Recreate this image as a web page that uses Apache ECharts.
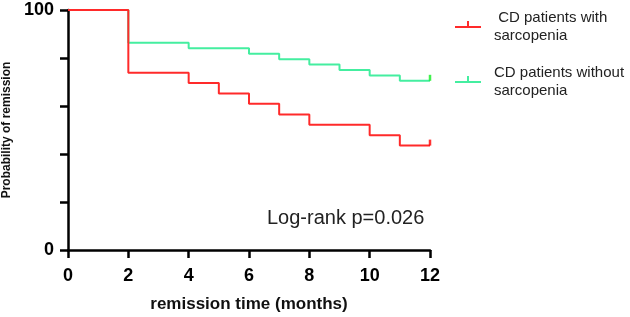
<!DOCTYPE html>
<html>
<head>
<meta charset="utf-8">
<script src="https://cdn.jsdelivr.net/npm/echarts@6/dist/echarts.min.js"></script>
<style>html,body{margin:0;padding:0;background:#fff}#c{width:630px;height:317px}</style>
</head>
<body>
<div id="c"></div>
<script>
// remission time (months) and probability (%) for each step
const redTimes = [0, 2, 4, 5, 6, 7, 8, 10, 11, 12];
const redProb = [100, 73.9, 69.6, 65.2, 60.9, 56.5, 52.2, 47.8, 43.5, 43.5];
const greenTimes = [0, 2, 4, 6, 7, 8, 9, 10, 11, 12];
const greenProb = [100, 86.4, 84.1, 81.8, 79.5, 77.3, 75.0, 72.7, 70.5, 70.5];
const seriesNames = [' CD patients with\nsarcopenia', 'CD patients without\nsarcopenia'];
const yLabels = [0, 100];

const font = 'Liberation Sans, Arial, sans-serif';
// line in the middle, censor tick going up (empty sub-path keeps it centred)
const legendIcon = 'path://M0,9 L26,9 L26,11 L0,11 Z M12,4 L14,4 L14,9 L12,9 Z M0,16 L26,16 L26,16 L0,16 Z';

function pairs(t, v) { return t.map((x, i) => [x, v[i]]); }
function censor(t, v) { return [[t[t.length - 1], v[v.length - 1]]]; }

const chart = echarts.init(document.getElementById('c'));
chart.setOption({
  animation: false,
  grid: { left: 68, right: 200, top: 10, bottom: 67, outerBoundsMode: 'none', containLabel: false },
  legend: {
    orient: 'vertical', left: 450, top: 4, itemWidth: 26, itemHeight: 12, itemGap: 19,
    selectedMode: false,
    textStyle: { fontFamily: font, fontSize: 15, color: '#222', lineHeight: 18, padding: [0, 0, 0, 8] },
    data: [
      { name: seriesNames[0], icon: legendIcon, itemStyle: { color: '#ff2a2a', borderWidth: 0 } },
      { name: seriesNames[1], icon: legendIcon, itemStyle: { color: '#44eea0', borderWidth: 0 } },
    ],
  },
  xAxis: {
    type: 'value', min: 0, max: 12, interval: 2,
    name: 'remission time (months)', nameLocation: 'middle', nameGap: 46,
    nameTextStyle: { fontFamily: font, fontSize: 17, fontWeight: 'bold', color: '#111' },
    axisLine: { lineStyle: { color: '#000', width: 2.5 } },
    axisTick: { show: true, length: 8, lineStyle: { color: '#000', width: 2.5 } },
    axisLabel: { fontFamily: font, fontSize: 18, fontWeight: 'bold', color: '#000', margin: 17 },
    splitLine: { show: false },
  },
  yAxis: {
    type: 'value', min: 0, max: 100, interval: 20,
    name: 'Probability of remission', nameLocation: 'middle', nameGap: 49, nameRotate: 90,
    nameTextStyle: { fontFamily: font, fontSize: 12, fontWeight: 'bold', color: '#111' },
    axisLine: { show: true, lineStyle: { color: '#000', width: 2.5 } },
    axisTick: { show: true, length: 8, lineStyle: { color: '#000', width: 2.5 } },
    axisLabel: { fontFamily: font, fontSize: 18, fontWeight: 'bold', color: '#000', margin: 14,
      formatter: v => yLabels.includes(v) ? String(v) : '' },
    splitLine: { show: false },
  },
  series: [
    { name: seriesNames[1], type: 'line', step: 'end', showSymbol: false, z: 2,
      data: pairs(greenTimes, greenProb), lineStyle: { color: '#44eea0', width: 2 },
      itemStyle: { color: '#44eea0' } },
    { name: seriesNames[0], type: 'line', step: 'end', showSymbol: false, z: 3,
      data: pairs(redTimes, redProb), lineStyle: { color: '#ff2a2a', width: 2 },
      itemStyle: { color: '#ff2a2a' } },
    { type: 'scatter', symbol: 'rect', symbolSize: [2.5, 6], symbolOffset: [0, -3], z: 4,
      data: censor(greenTimes, greenProb), itemStyle: { color: '#11ee22' } },
    { type: 'scatter', symbol: 'rect', symbolSize: [2.5, 6], symbolOffset: [0, -3], z: 4,
      data: censor(redTimes, redProb), itemStyle: { color: '#ff0000' } },
  ],
  graphic: [{
    type: 'text', left: 267, top: 208,
    style: { text: 'Log-rank p=0.026', font: '20px ' + font, fill: '#222' },
  }],
});
</script>
</body>
</html>
